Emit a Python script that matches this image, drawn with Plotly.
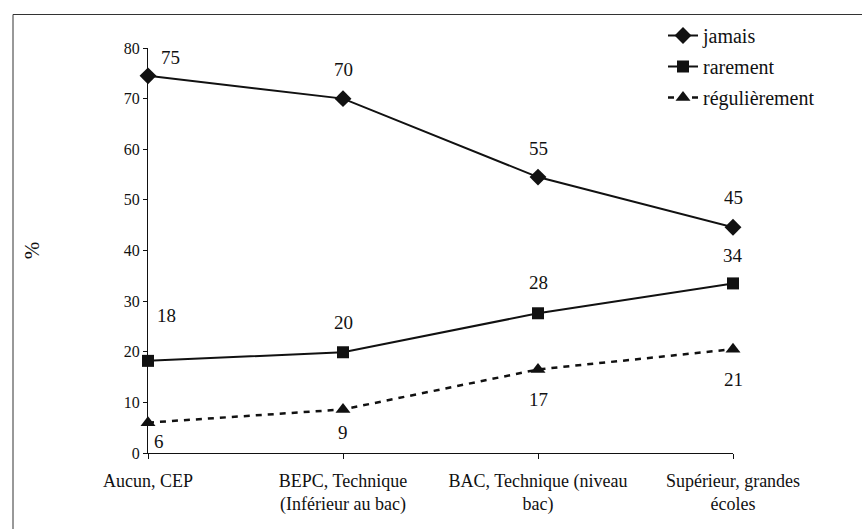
import math
import plotly.graph_objects as go

# ---- data ----
categories = [
    "Aucun, CEP",
    "BEPC, Technique<br>(Inférieur au bac)",
    "BAC, Technique (niveau<br>bac)",
    "Supérieur, grandes<br>écoles",
]
jamais = [74.5, 70.0, 54.5, 44.6]
rarement = [18.2, 19.9, 27.6, 33.5]
regulierement = [6.0, 8.6, 16.5, 20.5]
series_names = ["jamais", "rarement", "régulièrement"]
y_ticks = [0, 10, 20, 30, 40, 50, 60, 70, 80]

# ---- style ----
FONT = "Liberation Serif"
INK = "#111111"
W, H = 862, 529
L, R, T, B = 148, 129, 48, 76
pw, ph = W - L - R, H - T - B

def px_x(px):
    return (px - L) / pw

def px_y(py):
    return (H - B - py) / ph

series = [jamais, rarement, regulierement]
symbols = ["diamond", "square", "triangle-up"]
msizes = [13, 12, 13]
dashes = ["solid", "solid", "6px,6px"]
widths = [2, 2, 2.5]
# label offsets (px) per series per point: (xshift, yshift)
label_offsets = [
    [(22, 18), (0, 29), (0, 29), (0, 30)],
    [(18, 45), (0, 30), (0, 31), (0, 28)],
    [(11, -19), (0, -23), (0, -30), (0, -30)],
]

fig = go.Figure()
for i, (name, vals) in enumerate(zip(series_names, series)):
    fig.add_trace(go.Scatter(
        x=categories, y=vals, name=name, mode="lines+markers",
        legendgroup=name,
        line=dict(color=INK, width=widths[i], dash=dashes[i]),
        marker=dict(symbol=symbols[i], size=msizes[i], color=INK),
        cliponaxis=False,
    ))

annotations = []
for i, vals in enumerate(series):
    for j, v in enumerate(vals):
        xs, ys = label_offsets[i][j]
        annotations.append(dict(
            x=categories[j], y=v, xref="x", yref="y",
            text=str(int(math.floor(v + 0.5))), showarrow=False,
            xshift=xs, yshift=ys,
            font=dict(family=FONT, size=19, color=INK),
        ))

shapes = [
    dict(type="line", xref="paper", yref="paper",
         x0=px_x(13), x1=px_x(862), y0=px_y(14.5), y1=px_y(14.5),
         line=dict(color="#333333", width=1)),
    dict(type="line", xref="paper", yref="paper",
         x0=px_x(13), x1=px_x(13), y0=px_y(14.5), y1=px_y(529),
         line=dict(color="#333333", width=1)),
]

fig.update_layout(
    width=W, height=H,
    margin=dict(l=L, r=R, t=T, b=B, autoexpand=False),
    paper_bgcolor="white", plot_bgcolor="white",
    font=dict(family=FONT, color=INK),
    showlegend=True,
    legend=dict(
        x=px_x(663), y=px_y(16), xanchor="left", yanchor="top",
        font=dict(family=FONT, size=20, color=INK),
        bgcolor="rgba(0,0,0,0)", tracegroupgap=2,
    ),
    annotations=annotations,
    shapes=shapes,
)
fig.update_xaxes(
    type="category", range=[0, len(categories) - 1],
    showline=True, linecolor=INK, linewidth=1,
    ticks="outside", ticklen=5, tickcolor=INK,
    showgrid=False, zeroline=False,
    tickfont=dict(family=FONT, size=18, color=INK),
    ticklabelstandoff=6,
    automargin=False,
)
fig.update_yaxes(
    range=[0, 80], tickvals=y_ticks,
    showline=True, linecolor=INK, linewidth=1,
    ticks="outside", ticklen=4, tickcolor=INK,
    showgrid=False, zeroline=False,
    tickfont=dict(family=FONT, size=16, color=INK),
    title=dict(text="%", font=dict(family=FONT, size=21, color=INK), standoff=78),
    automargin=False,
)

fig.write_html("out.html")
